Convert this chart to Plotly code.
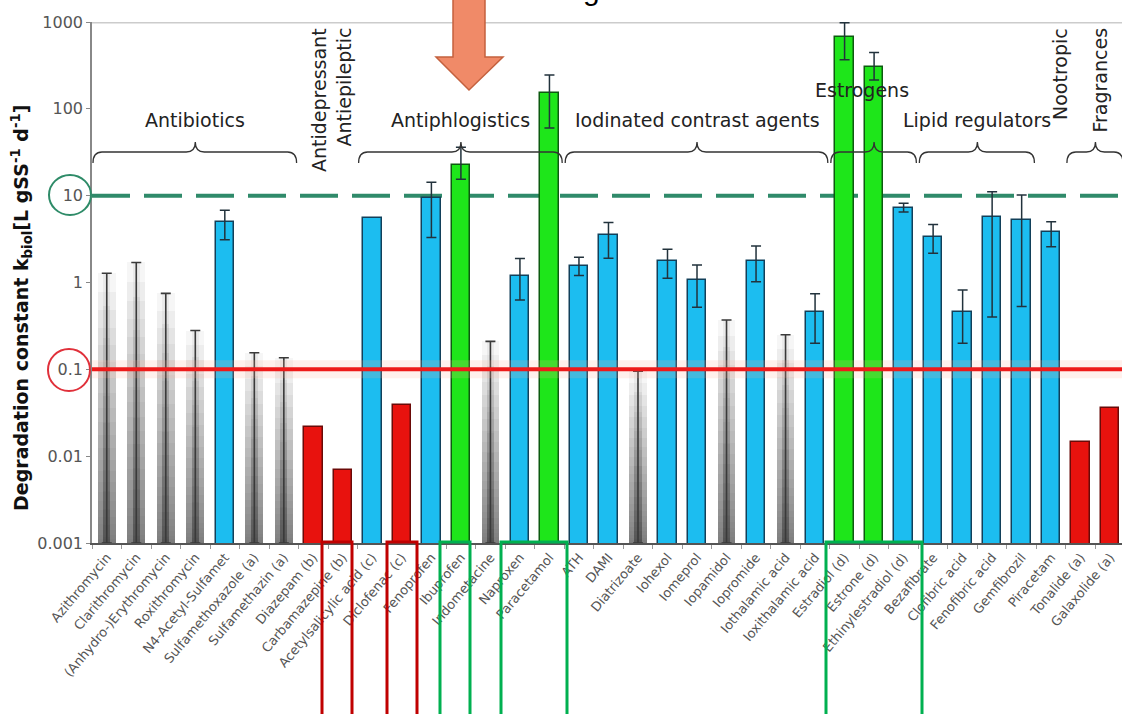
import plotly.graph_objects as go
import numpy as np

# ---- data -------------------------------------------------------------
compounds = [
    "Azithromycin", "Clarithromycin", "(Anhydro-)Erythromycin", "Roxithromycin",
    "N4-Acetyl-Sulfamet", "Sulfamethoxazole (a)", "Sulfamethazin (a)",
    "Diazepam (b)", "Carbamazepine (b)", "Acetylsalicylic acid (c)",
    "Diclofenac (c)", "Fenoprofen", "Ibuprofen", "Indometacine", "Naproxen",
    "Paracetamol", "ATH", "DAMI", "Diatrizoate", "Iohexol", "Iomeprol",
    "Iopamidol", "Iopromide", "Iothalamic acid", "Ioxithalamic acid",
    "Estradiol (d)", "Estrone (d)", "Ethinylestradiol (d)", "Bezafibrate",
    "Clofibric acid", "Fenofibric acid", "Gemfibrozil", "Piracetam",
    "Tonalide (a)", "Galaxolide (a)",
]
k_biol = [
    1.28, 1.7, 0.75, 0.28, 5.0, 0.155, 0.136,
    0.0217, 0.0070, 5.5,
    0.039, 9.3, 22.5, 0.21, 1.19, 151,
    1.55, 3.5, 0.095, 1.78, 1.07, 0.37, 1.78, 0.25, 0.46,
    667, 306, 7.2,
    3.37, 0.46, 5.7, 5.25,
    3.85,
    0.0147, 0.0356,
]
err_plus = [
    None, None, None, None, 1.8, None, None,
    None, None, None,
    None, 5.0, 13.5, None, 0.7, 94,
    0.4, 1.4, None, 0.63, 0.52, None, 0.85, None, 0.28,
    315, 138, 1.0,
    1.3, 0.36, 5.4, 4.95,
    1.15,
    None, None,
]
err_minus = [
    None, None, None, None, 1.9, None, None,
    None, None, None,
    None, 6.0, 7.0, None, 0.56, 91,
    0.35, 1.6, None, 0.66, 0.55, None, 0.76, None, 0.26,
    300, 91, 0.7,
    1.2, 0.26, 5.3, 4.72,
    1.27,
    None, None,
]
# removal class: "limit" = upper limit only, "mid", "high", "low"
removal = [
    "limit", "limit", "limit", "limit", "mid", "limit", "limit",
    "low", "low", "mid",
    "low", "mid", "high", "limit", "mid", "high",
    "mid", "mid", "limit", "mid", "mid", "limit", "mid", "limit", "mid",
    "high", "high", "mid",
    "mid", "mid", "mid", "mid",
    "mid",
    "low", "low",
]
# therapeutic groups: (label, first index, last index)
groups = [
    ("Antibiotics", 0, 6),
    ("Antiphlogistics", 9, 15),
    ("Iodinated contrast agents", 16, 24),
    ("Estrogens", 25, 27),
    ("Lipid regulators", 28, 31),
    ("Fragrances", 33, 34),
]
high_threshold = 10
low_threshold = 0.1
y_ticks = [0.001, 0.01, 0.1, 1, 10, 100, 1000]
y_tick_text = ["0.001", "0.01", "0.1", "1", "10", "100", "1000"]

# ---- styling ------------------------------------------------------------
fill = {"mid": "#1cbdf0", "high": "#1ee61a", "low": "#e8120e"}
edge = {"mid": "#12405a", "high": "#0d5a10", "low": "#6a0a08"}

W, H = 1122, 714
ML, MR, MT, MB = 92, 0, 22, 171
PW, PH = W - ML - MR, H - MT - MB
X_RANGE = [-0.5, 34.4]
SPAN = X_RANGE[1] - X_RANGE[0]


def px(xp, yp):
    """pixel position -> paper coordinates"""
    return (xp - ML) / PW, (H - MB - yp) / PH


def cat_px(i):
    return ML + (i - X_RANGE[0]) * PW / SPAN


fig = go.Figure()

# upper-limit compounds: columns fading upward, built from stacked translucent layers
lim_idx = [i for i, r in enumerate(removal) if r == "limit"]
lim_x = [compounds[i] for i in lim_idx]
lim_v = np.array([k_biol[i] for i in lim_idx])
log_h = np.log10(lim_v) + 3


def fade_layers(n, power, width, color):
    for k in range(1, n + 1):
        frac = (k / n) ** power
        h = 10 ** (-3 + frac * log_h)
        fig.add_trace(go.Bar(
            x=lim_x, y=h, width=width,
            marker=dict(color=color, line=dict(width=0)),
            showlegend=False, hoverinfo="skip"))


fade_layers(24, 1.7, 0.6, "rgba(70,70,70,0.05)")
fade_layers(12, 1.5, 0.24, "rgba(50,50,50,0.06)")

# thin stem with cap marking the upper limit
fig.add_trace(go.Scatter(
    x=lim_x, y=lim_v, mode="markers",
    marker=dict(size=1, color="rgba(0,0,0,0)"),
    error_y=dict(type="data", symmetric=False, array=[0] * len(lim_v),
                 arrayminus=list(lim_v - 0.001), color="#3a3a3a",
                 thickness=1.6, width=5),
    showlegend=False, hoverinfo="skip"))

# measured compounds
bar_idx = [i for i, r in enumerate(removal) if r != "limit"]
fig.add_trace(go.Bar(
    x=[compounds[i] for i in bar_idx],
    y=[k_biol[i] for i in bar_idx],
    width=0.63,
    marker=dict(color=[fill[removal[i]] for i in bar_idx],
                line=dict(color=[edge[removal[i]] for i in bar_idx], width=1.5)),
    showlegend=False))

err_idx = [i for i in bar_idx if err_plus[i] is not None]
fig.add_trace(go.Scatter(
    x=[compounds[i] for i in err_idx],
    y=[k_biol[i] for i in err_idx],
    mode="markers", marker=dict(size=1, color="rgba(0,0,0,0)"),
    error_y=dict(type="data", symmetric=False,
                 array=[err_plus[i] for i in err_idx],
                 arrayminus=[err_minus[i] for i in err_idx],
                 color="#22323c", thickness=1.5, width=5),
    showlegend=False, hoverinfo="skip"))

shapes = []
# threshold lines
shapes.append(dict(type="line", xref="paper", yref="y", x0=0, x1=1,
                   y0=high_threshold, y1=high_threshold, layer="below",
                   line=dict(color="#2f8a6a", width=4, dash="38px,14px")))
shapes.append(dict(type="line", xref="paper", yref="y", x0=0, x1=1,
                   y0=low_threshold, y1=low_threshold, layer="above",
                   line=dict(color="rgba(255,170,150,0.18)", width=18)))
shapes.append(dict(type="line", xref="paper", yref="y", x0=0, x1=1,
                   y0=low_threshold, y1=low_threshold, layer="above",
                   line=dict(color="#ee1a1a", width=4)))
# top frame line
shapes.append(dict(type="line", xref="paper", yref="y", x0=0, x1=1,
                   y0=1000, y1=1000, layer="below",
                   line=dict(color="#cccccc", width=3)))


def brace(x0, x1, xc, y_end=163, y_line=152, y_tip=142, r=9):
    def p(a, b):
        u, v = px(a, b)
        return f"{u:.5f},{v:.5f}"
    d = (f"M{p(x0, y_end)} Q{p(x0, y_line)} {p(x0 + r, y_line)} "
         f"L{p(xc - r, y_line)} Q{p(xc, y_line)} {p(xc, y_tip)} "
         f"Q{p(xc, y_line)} {p(xc + r, y_line)} "
         f"L{p(x1 - r, y_line)} Q{p(x1, y_line)} {p(x1, y_end)}")
    return dict(type="path", xref="paper", yref="paper", path=d,
                line=dict(color="#333333", width=1.3), layer="above")


for name, a, b in groups:
    x0 = cat_px(a - 0.5) + 1
    x1 = cat_px(b + 0.5) - 2
    xc = (cat_px(a) + cat_px(b)) / 2
    shapes.append(brace(x0, x1, xc))

# circles around the threshold tick labels
for (cx, cy, rx, ry, col) in [(70, 195, 21, 20, "#2e8b68"), (69, 370, 21, 21, "#e0303a")]:
    u0, v0 = px(cx - rx, cy + ry)
    u1, v1 = px(cx + rx, cy - ry)
    shapes.append(dict(type="circle", xref="paper", yref="paper",
                       x0=u0, x1=u1, y0=v0, y1=v1, layer="above",
                       line=dict(color=col, width=2)))

# highlight frames below the axis
for (xa, xb, col) in [(322, 352, "#c00000"), (387, 417, "#c00000"),
                      (440, 470, "#00b050"), (501, 567, "#00b050"),
                      (826, 922, "#00b050")]:
    u0, v0 = px(xa, 718)
    u1, v1 = px(xb, 542)
    shapes.append(dict(type="rect", xref="paper", yref="paper",
                       x0=u0, x1=u1, y0=v0, y1=v1, layer="above",
                       line=dict(color=col, width=3)))

# arrow
arrow_pts = [(453, -6), (485, -6), (485, 57), (503, 57), (469, 90), (436, 57), (453, 57)]
arrow_path = "M" + " L".join("{:.5f},{:.5f}".format(*px(a, b)) for a, b in arrow_pts) + " Z"
shapes.append(dict(type="path", xref="paper", yref="paper", path=arrow_path,
                   fillcolor="#f08a68", line=dict(color="#c4613e", width=1.5),
                   layer="above"))

annotations = []
label_font = dict(family="DejaVu Sans", size=19, color="#222222")
label_pos = {
    "Antibiotics": (None, 120),
    "Antiphlogistics": (None, 120),
    "Iodinated contrast agents": (None, 120),
    "Estrogens": (862, 90),
    "Lipid regulators": (None, 120),
}
for name, a, b in groups:
    if name not in label_pos:
        continue
    xp, yp = label_pos[name]
    if xp is None:
        xp = (cat_px(a) + cat_px(b)) / 2
    u, v = px(xp, yp)
    annotations.append(dict(text=name, x=u, y=v, xref="paper", yref="paper",
                            showarrow=False, font=label_font,
                            xanchor="center", yanchor="middle"))

for text, xp in [("Antidepressant", 319), ("Antiepileptic", 343),
                 ("Nootropic", 1060), ("Fragrances", 1099)]:
    u, v = px(xp, 26)
    annotations.append(dict(text=text, x=u, y=v, xref="paper", yref="paper",
                            textangle=-90, showarrow=False, font=label_font,
                            xanchor="center", yanchor="top"))

# y axis title
u, v = px(21, 308)
annotations.append(dict(
    text="Degradation constant k<sub>biol</sub>[L gSS<sup>-1</sup> d<sup>-1</sup>]",
    x=u, y=v, xref="paper", yref="paper", textangle=-90, showarrow=False,
    font=dict(family="DejaVu Sans", size=19, color="#111111", weight="bold"),
    xanchor="center", yanchor="middle"))

# heading above the chart (only its lower part is inside the page)
u, v = px(591, 8)
annotations.append(dict(text="g", x=u, y=v, xref="paper", yref="paper",
                        showarrow=False, xanchor="center", yanchor="bottom",
                        font=dict(family="Liberation Sans", size=30, color="#000000")))

fig.update_layout(
    width=W, height=H,
    margin=dict(l=ML, r=MR, t=MT, b=MB, pad=0),
    paper_bgcolor="white", plot_bgcolor="white",
    barmode="overlay", bargap=0,
    shapes=shapes, annotations=annotations,
    showlegend=False,
    xaxis=dict(type="category", categoryorder="array", categoryarray=compounds,
               range=X_RANGE, tickangle=-50, showgrid=False, zeroline=False,
               showline=True, linecolor="#555555", linewidth=1.5,
               ticks="outside", ticklen=4, tickcolor="#999999", tickson="boundaries",
               tickfont=dict(family="DejaVu Sans", size=13, color="#555555")),
    yaxis=dict(type="log", range=[-3, 3], tickvals=y_ticks, ticktext=y_tick_text,
               showgrid=False, zeroline=False, showline=True, linecolor="#888888",
               linewidth=1.5, ticks="outside", ticklen=4, tickcolor="#888888",
               tickfont=dict(family="DejaVu Sans", size=16, color="#555555")),
)

fig.write_html("out.html")
